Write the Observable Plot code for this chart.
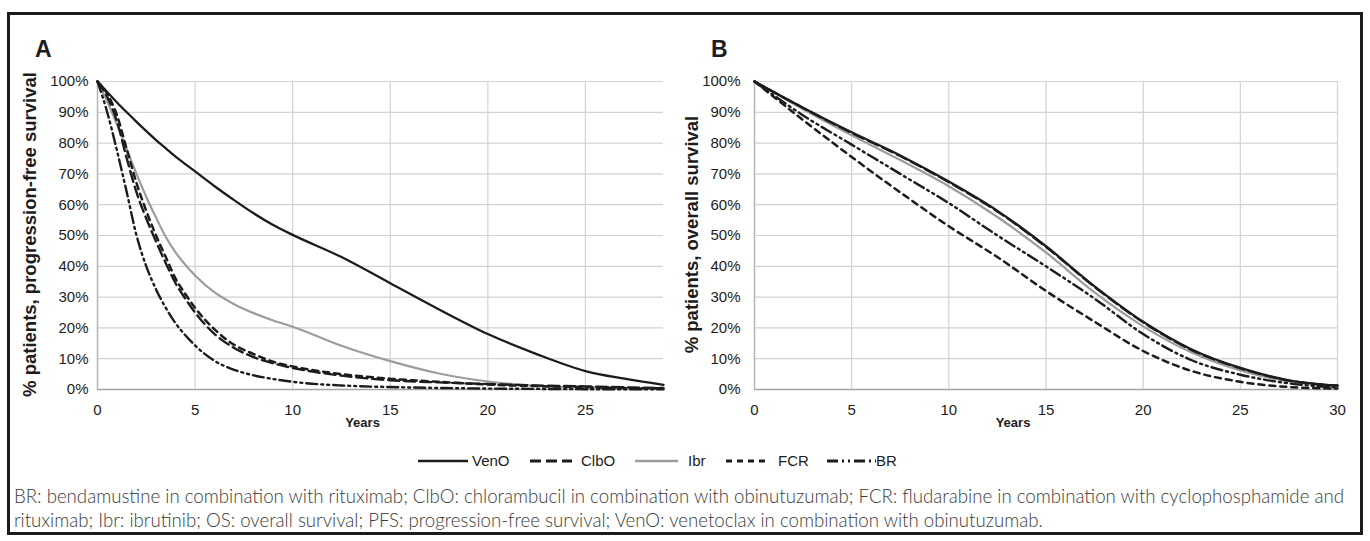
<!DOCTYPE html>
<html>
<head>
<meta charset="utf-8">
<script src="https://cdn.jsdelivr.net/npm/d3@7"></script>
<script src="https://cdn.jsdelivr.net/npm/@observablehq/plot@0.6"></script>
<style>
  body { margin: 0; background: #fff; }
  #root { position: relative; width: 1370px; height: 541px; overflow: hidden; font-family: "Liberation Sans", Arial, sans-serif; }
  #frame { position: absolute; left: 7px; top: 12px; width: 1356px; height: 523px; border: 3px solid #1c1c1c; box-sizing: border-box; }
  .panel { position: absolute; top: 0; }
  .tag { position: absolute; top: 36px; font-weight: bold; font-size: 23px; color: #1c1c1c; }
  svg.overlay { position: absolute; left: 0; top: 0; }
</style>
</head>
<body>
<div id="root">
  <div id="frame"></div>
  <div id="panelA" class="panel" style="left:0px"></div>
  <div id="panelB" class="panel" style="left:680px"></div>
  <div class="tag" style="left:35px">A</div>
  <div class="tag" style="left:711px">B</div>
  <svg id="legend" class="overlay" width="1370" height="541"></svg>
</div>
<script>
// ---------- data ----------
const series = ["VenO", "ClbO", "Ibr", "FCR", "BR"];
const yTicks = [0, 10, 20, 30, 40, 50, 60, 70, 80, 90, 100];
const xTicksA = [0, 5, 10, 15, 20, 25];
const xTicksB = [0, 5, 10, 15, 20, 25, 30];

// Panel A: progression-free survival (%)
const pfsYears = [0, 0.5, 1, 1.5, 2, 2.5, 3, 3.5, 4, 4.5, 5, 6, 7, 8, 9, 10, 12.5, 15, 17.5, 20, 22.5, 25, 27, 29];
const pfsVenO = [100, 96.6, 93.2, 90, 86.9, 83.9, 81, 78.3, 75.6, 73.2, 70.8, 66, 61.5, 57.2, 53.4, 50.2, 43, 34.5, 26, 18, 11.5, 6, 3.5, 1.5];
const pfsClbO = [100, 95, 87, 75, 64, 55.5, 48, 41, 34.5, 29.5, 25, 18, 13.5, 10.5, 8.5, 7, 4.5, 3, 2.3, 1.8, 1.3, 1, 0.7, 0.5];
const pfsIbr  = [100, 93.5, 86, 78, 70, 62.5, 55.8, 49.5, 44.5, 40.5, 37, 31.5, 27.7, 24.8, 22.4, 20.4, 14.2, 9.2, 5.2, 2.6, 1.2, 0.6, 0.3, 0.2];
const pfsFCR  = [100, 96, 89, 78, 67, 58, 50, 43, 36, 31, 26.5, 19.5, 14.5, 11.5, 9, 7.5, 5, 3.5, 2.5, 1.6, 1.1, 0.8, 0.5, 0.4];
const pfsBR   = [100, 90, 77.5, 64, 50, 40, 32.5, 26.5, 21.5, 17.6, 14.3, 9.3, 6.4, 4.6, 3.4, 2.5, 1.3, 0.8, 0.5, 0.3, 0.2, 0.1, 0.1, 0.1];

// Panel B: overall survival (%)
const osYears = [0, 2.5, 5, 7.5, 10, 12.5, 15, 17.5, 20, 22.5, 25, 27.5, 30];
const osVenO = [100, 91.5, 83.5, 76, 67.5, 58, 46.5, 33.5, 22, 13, 7, 3, 1.3];
const osClbO = [100, 91.4, 83.3, 75.8, 67.3, 57.8, 46.3, 33.3, 21.8, 12.8, 6.9, 2.9, 1.2];
const osIbr  = [100, 91, 82.5, 74.5, 66, 56, 44.5, 31.5, 20.5, 12, 6.2, 2.6, 1.1];
const osFCR  = [100, 87.5, 75.5, 64, 53, 43, 32, 22, 12.5, 6, 2.5, 0.8, 0.3];
const osBR   = [100, 89, 79.5, 70, 60.5, 50, 40, 29.5, 18, 9.5, 4.8, 2, 0.6];

const captionLines = [
  "BR: bendamustine in combination with rituximab; ClbO: chlorambucil in combination with obinutuzumab; FCR: fludarabine in combination with cyclophosphamide and",
  "rituximab; Ibr: ibrutinib; OS: overall survival; PFS: progression-free survival; VenO: venetoclax in combination with obinutuzumab."
];

// ---------- styles ----------
const ink = "#1c1c1c";
const styles = {
  VenO: {stroke: ink, width: 2.3, dash: null},
  ClbO: {stroke: ink, width: 2.4, dash: "11,5"},
  Ibr:  {stroke: "#9c9c9c", width: 2.2, dash: null},
  FCR:  {stroke: ink, width: 2.5, dash: "6,5"},
  BR:   {stroke: ink, width: 2.4, dash: "11,4,2,4,2,4"}
};
const drawOrder = ["Ibr", "BR", "FCR", "ClbO", "VenO"];
const fontFam = "Liberation Sans, Arial, sans-serif";

function panel({years, values, xMax, xTicks, width, ml, mr, yLabel, yPad, labelDx, yearsDx}) {
  const data = series.flatMap(s => years.map((t, i) => ({s, t, v: values[s][i]})));
  const lines = drawOrder.map(s => Plot.line(data.filter(d => d.s === s), {
    x: "t", y: "v", stroke: styles[s].stroke, strokeWidth: styles[s].width,
    strokeDasharray: styles[s].dash, curve: "monotone-x"
  }));
  return Plot.plot({
    width, height: 440,
    marginLeft: ml, marginRight: mr, marginTop: 81, marginBottom: 51,
    x: {domain: [0, xMax]},
    y: {domain: [0, 100]},
    style: {fontFamily: fontFam, fontSize: "15px", color: ink, background: "transparent", overflow: "visible"},
    marks: [
      Plot.gridY(yTicks, {stroke: "#d2d2d2", strokeOpacity: 1, strokeWidth: 1.2}),
      Plot.gridX(xTicks, {stroke: "#d2d2d2", strokeOpacity: 1, strokeWidth: 1.2}),
      Plot.ruleY([0], {stroke: "#a5a5a5", strokeWidth: 1.6}),
      Plot.ruleX([0], {stroke: "#b5b5b5", strokeWidth: 1.4}),
      Plot.axisY(yTicks, {tickSize: 0, tickPadding: yPad, tickFormat: d => d + "%", label: null, fontSize: 15}),
      Plot.axisX(xTicks, {tickSize: 0, tickPadding: 15, label: null, fontSize: 15}),
      ...lines,
      Plot.text([yLabel], {frameAnchor: "left", textAnchor: "middle", lineAnchor: "middle", rotate: -90, dx: labelDx, dy: -1, fontWeight: "bold", fontSize: 18.5, fill: ink}),
      Plot.text(["Years"], {frameAnchor: "bottom", textAnchor: "middle", dx: yearsDx, dy: 37, fontWeight: "bold", fontSize: 13, fill: ink})
    ]
  });
}

const valsA = {VenO: pfsVenO, ClbO: pfsClbO, Ibr: pfsIbr, FCR: pfsFCR, BR: pfsBR};
const valsB = {VenO: osVenO, ClbO: osClbO, Ibr: osIbr, FCR: osFCR, BR: osBR};

document.getElementById("panelA").append(panel({
  years: pfsYears, values: valsA, xMax: 29, xTicks: xTicksA,
  width: 680, ml: 97, mr: 17, yLabel: "% patients, progression-free survival",
  yPad: 9, labelDx: -67, yearsDx: -18
}));
document.getElementById("panelB").append(panel({
  years: osYears, values: valsB, xMax: 30, xTicks: xTicksB,
  width: 690, ml: 74, mr: 33, yLabel: "% patients, overall survival",
  yPad: 14, labelDx: -62, yearsDx: -33
}));

// ---------- legend + caption ----------
const svg = d3.select("#legend");
const legendItems = [
  {s: "VenO", x0: 418, x1: 468, tx: 472},
  {s: "ClbO", x0: 530, x1: 572, tx: 581},
  {s: "Ibr",  x0: 635, x1: 678, tx: 688},
  {s: "FCR",  x0: 726, x1: 767, tx: 778},
  {s: "BR",   x0: 827, x1: 876, tx: 876}
];
const ly = 461;
legendItems.forEach(it => {
  const st = styles[it.s];
  svg.append("line").attr("x1", it.x0).attr("x2", it.x1).attr("y1", ly).attr("y2", ly)
    .attr("stroke", st.stroke).attr("stroke-width", st.width + 0.4)
    .attr("stroke-dasharray", st.dash);
  svg.append("text").attr("x", it.tx).attr("y", ly).attr("dy", "0.35em")
    .attr("font-family", fontFam).attr("font-size", 15).attr("fill", ink).text(it.s);
});

const capFont = "Lato, 'Noto Sans', sans-serif";
const capY = [503, 527];
const capNodes = captionLines.map((t, i) => svg.append("text")
  .attr("x", 14).attr("y", capY[i]).attr("font-family", capFont).attr("font-weight", 300)
  .attr("font-size", 15).attr("fill", "#3a3a3a").text(t));
const w0 = capNodes[0].node().getComputedTextLength();
const fs = 15 * 1331 / w0;
capNodes.forEach(n => n.attr("font-size", fs));
</script>
</body>
</html>
